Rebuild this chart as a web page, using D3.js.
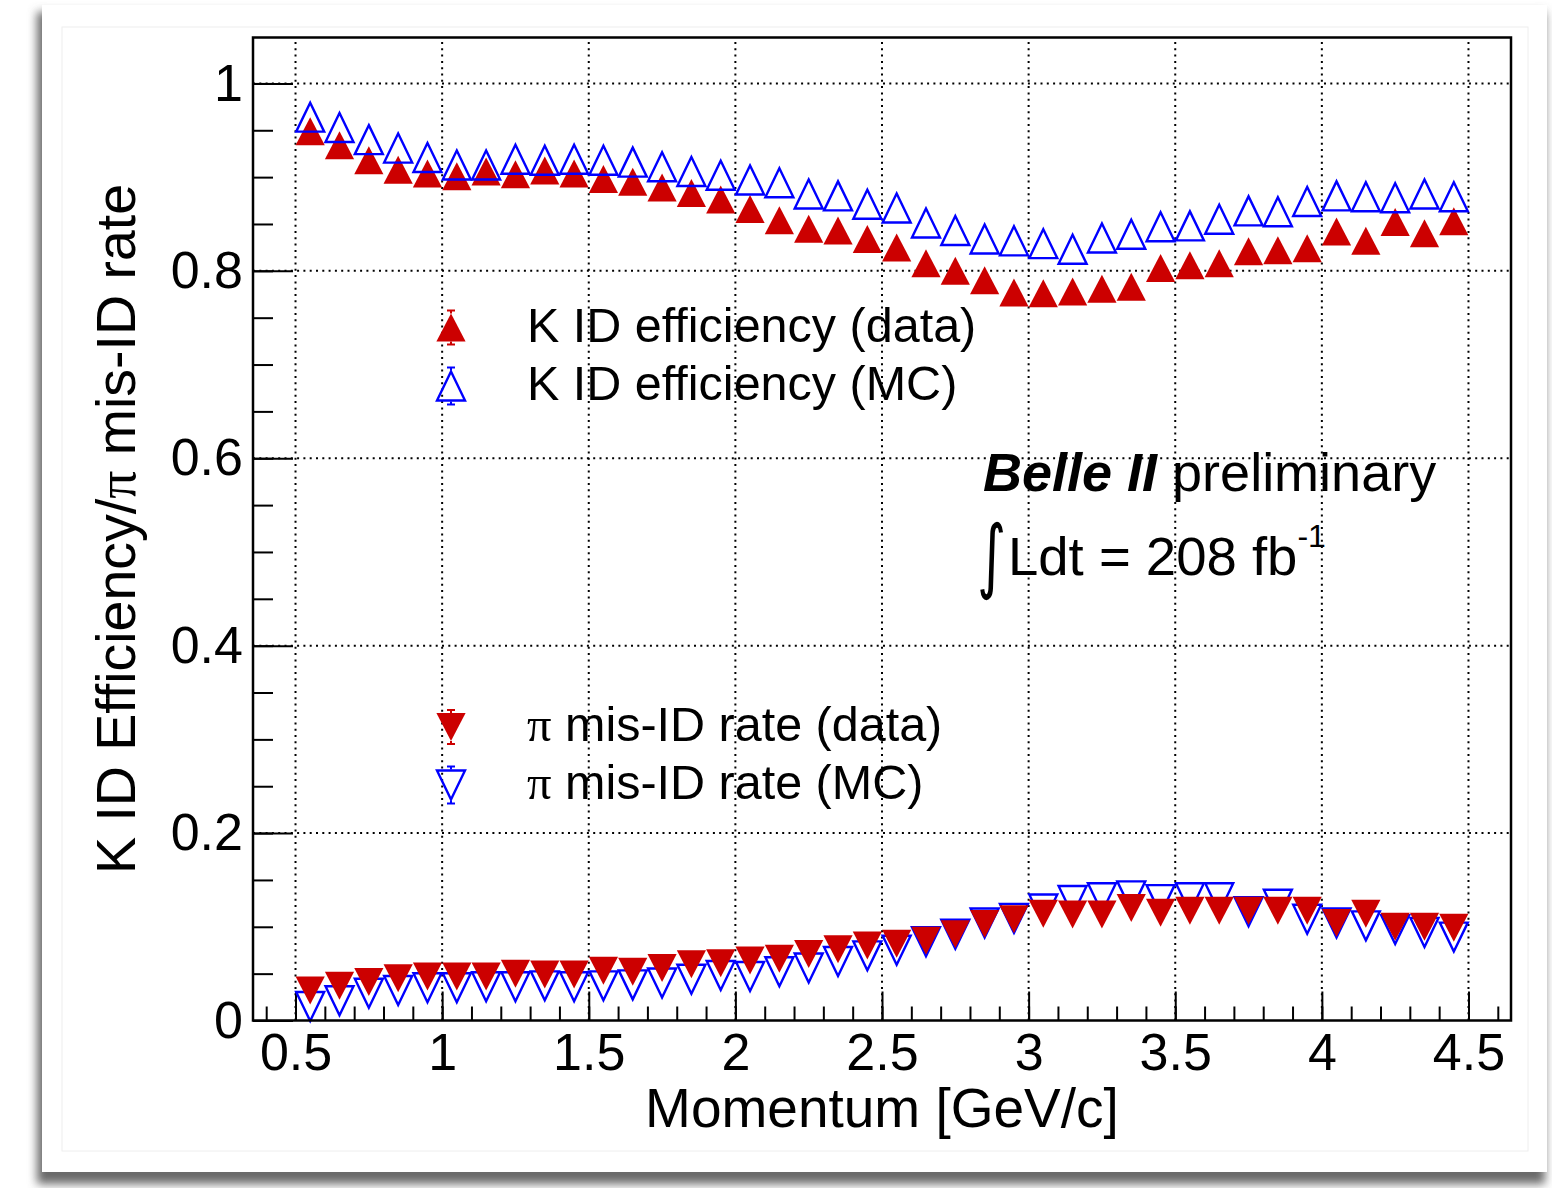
<!DOCTYPE html>
<html>
<head>
<meta charset="utf-8">
<script src="https://cdn.jsdelivr.net/npm/d3@7"></script>
<style>
  body { margin: 0; background: #fff; }
  svg { display: block; font-family: "Liberation Sans", Arial, sans-serif; }
</style>
</head>
<body>
<div id="chart"></div>
<script>
"use strict"

// bin centres [GeV/c]
const momentum = [0.55, 0.65, 0.75, 0.85, 0.95, 1.05, 1.15, 1.25, 1.35, 1.45,
  1.55, 1.65, 1.75, 1.85, 1.95, 2.05, 2.15, 2.25, 2.35, 2.45,
  2.55, 2.65, 2.75, 2.85, 2.95, 3.05, 3.15, 3.25, 3.35, 3.45,
  3.55, 3.65, 3.75, 3.85, 3.95, 4.05, 4.15, 4.25, 4.35, 4.45];

const kEffData = [0.949, 0.934, 0.918, 0.908, 0.904, 0.901, 0.906, 0.903, 0.907, 0.904,
  0.898, 0.895, 0.889, 0.883, 0.876, 0.866, 0.854, 0.845, 0.843, 0.834,
  0.825, 0.808, 0.800, 0.790, 0.777, 0.776, 0.778, 0.781, 0.783, 0.803,
  0.806, 0.808, 0.821, 0.822, 0.824, 0.842, 0.832, 0.852, 0.840, 0.853];

const kEffMC = [0.964, 0.953, 0.940, 0.931, 0.921, 0.913, 0.913, 0.919, 0.918, 0.919,
  0.918, 0.916, 0.911, 0.906, 0.902, 0.897, 0.894, 0.882, 0.880, 0.871,
  0.867, 0.851, 0.843, 0.834, 0.832, 0.829, 0.823, 0.835, 0.839, 0.847,
  0.848, 0.855, 0.864, 0.863, 0.874, 0.880, 0.879, 0.878, 0.882, 0.879];

const piMisData = [0.032, 0.037, 0.041, 0.045, 0.047, 0.047, 0.047, 0.050, 0.049, 0.049,
  0.053, 0.052, 0.056, 0.060, 0.061, 0.064, 0.066, 0.071, 0.076, 0.080,
  0.082, 0.085, 0.092, 0.103, 0.108, 0.114, 0.113, 0.113, 0.120, 0.115,
  0.117, 0.117, 0.117, 0.117, 0.117, 0.104, 0.114, 0.100, 0.100, 0.099];

const piMisMC = [0.015, 0.021, 0.029, 0.032, 0.035, 0.035, 0.036, 0.036, 0.037, 0.036,
  0.037, 0.038, 0.040, 0.044, 0.048, 0.047, 0.052, 0.056, 0.063, 0.069,
  0.075, 0.084, 0.092, 0.104, 0.109, 0.119, 0.128, 0.131, 0.133, 0.129,
  0.131, 0.131, 0.116, 0.124, 0.108, 0.104, 0.101, 0.097, 0.094, 0.089];

const xTicks = [0.5, 1, 1.5, 2, 2.5, 3, 3.5, 4, 4.5];
const yTicks = [0, 0.2, 0.4, 0.6, 0.8, 1];

const legendLabels = ["K ID efficiency (data)", "K ID efficiency (MC)", "mis-ID rate (data)", "mis-ID rate (MC)"];

const RED = "#cc0000";
const BLUE = "#0000ff";

let KaonIdPlot = function(targetID) {

  let self = {
    targetElement: null,
    svg: null,
    frame: { left: 253, right: 1511, top: 37.5, bottom: 1020.5 },
    x: null,
    y: null
  };

  init();

  function init() {
    self.targetElement = d3.select(targetID);

    self.svg = self.targetElement.append("svg")
      .attr("width", 1552)
      .attr("height", 1188);

    drawPanel();

    self.x = d3.scaleLinear()
      .domain([0.355, 4.645])
      .range([self.frame.left, self.frame.right]);

    self.y = d3.scaleLinear()
      .domain([0, 1.049])
      .range([self.frame.bottom, self.frame.top]);

    drawGrid();
    drawAxes();

    drawSeries(kEffData, true, true);
    drawSeries(kEffMC, true, false);
    drawSeries(piMisMC, false, false);
    drawSeries(piMisData, false, true);

    drawFrame();
    drawLegend();
    drawLabel();
  }


  function drawPanel() {
    let defs = self.svg.append("defs");
    defs.append("filter")
      .attr("id", "blur")
      .attr("x", "-5%").attr("y", "-5%")
      .attr("width", "110%").attr("height", "110%")
      .append("feGaussianBlur")
      .attr("stdDeviation", 5);

    self.svg.append("rect")
      .attr("x", 37).attr("y", 12)
      .attr("width", 1508).attr("height", 1172)
      .style("fill", "#6a6a6a")
      .attr("filter", "url(#blur)");

    self.svg.append("rect")
      .attr("x", 42).attr("y", 5)
      .attr("width", 1505).attr("height", 1167)
      .style("fill", "white");

    self.svg.append("rect")
      .attr("x", 62).attr("y", 27)
      .attr("width", 1466).attr("height", 1124)
      .style("fill", "none")
      .style("stroke", "#eeeeee")
      .style("stroke-width", 1);
  }


  function drawGrid() {
    let grid = self.svg.append("g")
      .attr("class", "grid")
      .style("stroke", "black")
      .style("stroke-width", 2)
      .style("stroke-dasharray", "2,4.3");

    grid.selectAll(".gx")
      .data(xTicks)
      .enter().append("line")
      .attr("x1", d => self.x(d)).attr("x2", d => self.x(d))
      .attr("y1", self.frame.bottom).attr("y2", self.frame.top);

    grid.selectAll(".gy")
      .data(yTicks.filter(d => d > 0))
      .enter().append("line")
      .attr("y1", d => self.y(d)).attr("y2", d => self.y(d))
      .attr("x1", self.frame.left).attr("x2", self.frame.right);
  }


  function drawAxes() {
    let xMinor = d3.range(4, 47).map(d => d / 10);
    let yMinor = d3.range(0, 21).map(d => d / 20);

    let gx = self.svg.append("g")
      .attr("transform", "translate(0," + self.frame.bottom + ")");
    gx.append("g")
      .call(d3.axisBottom(self.x).tickValues(xMinor).tickFormat("").tickSizeInner(-14).tickSizeOuter(0));
    gx.append("g")
      .call(d3.axisBottom(self.x).tickValues(xTicks).tickFormat(d => String(d))
        .tickSizeInner(-29).tickSizeOuter(0).tickPadding(13));

    let gy = self.svg.append("g")
      .attr("transform", "translate(" + self.frame.left + ",0)");
    gy.append("g")
      .call(d3.axisLeft(self.y).tickValues(yMinor).tickFormat("").tickSizeInner(-20).tickSizeOuter(0));
    gy.append("g")
      .call(d3.axisLeft(self.y).tickValues(yTicks).tickFormat(d => String(d))
        .tickSizeInner(-40).tickSizeOuter(0).tickPadding(10));

    self.svg.selectAll(".domain").remove();
    self.svg.selectAll(".tick line")
      .style("stroke", "black")
      .style("stroke-width", 2);
    self.svg.selectAll(".tick text")
      .style("font-family", "Liberation Sans, Arial, sans-serif")
      .style("font-size", "52px")
      .style("fill", "black");

    self.svg.append("text")
      .attr("x", (self.frame.left + self.frame.right) / 2)
      .attr("y", 1127)
      .attr("text-anchor", "middle")
      .style("font-size", "55px")
      .text("Momentum [GeV/c]");

    let yTitle = self.svg.append("text")
      .attr("transform", "translate(135," + (self.frame.top + self.frame.bottom) / 2 + ") rotate(-90)")
      .attr("text-anchor", "middle")
      .style("font-size", "55.5px");
    yTitle.append("tspan").text("K ID Efficiency/");
    yTitle.append("tspan").style("font-family", "Liberation Serif, serif").text("π");
    yTitle.append("tspan").text(" mis-ID rate");
  }


  function triPath(up, w, h) {
    return up
      ? "M0," + (-h) + "L" + w + "," + h + "L" + (-w) + "," + h + "Z"
      : "M0," + h + "L" + w + "," + (-h) + "L" + (-w) + "," + (-h) + "Z";
  }


  function styleMarker(sel, filled) {
    if (filled) {
      sel.style("fill", RED).style("stroke", "none");
    } else {
      sel.style("fill", "none").style("stroke", BLUE).style("stroke-width", 2.4);
    }
  }


  function drawSeries(values, up, filled) {
    let pts = momentum.map((m, i) => ({ m: m, v: values[i] }));
    let sel = self.svg.append("g").selectAll("path")
      .data(pts)
      .enter().append("path")
      .attr("transform", d => "translate(" + self.x(d.m) + "," + self.y(d.v) + ")")
      .attr("d", filled ? triPath(up, 14.6, 14) : triPath(up, 14, 14.5));
    styleMarker(sel, filled);
  }


  function drawFrame() {
    self.svg.append("rect")
      .attr("x", self.frame.left)
      .attr("y", self.frame.top)
      .attr("width", self.frame.right - self.frame.left)
      .attr("height", self.frame.bottom - self.frame.top)
      .style("fill", "none")
      .style("stroke", "black")
      .style("stroke-width", 2.5);
  }


  function drawLegend() {
    let rows = [
      { label: legendLabels[0], up: true, filled: true, y: 327.5, pi: false },
      { label: legendLabels[1], up: true, filled: false, y: 386, pi: false },
      { label: legendLabels[2], up: false, filled: true, y: 727, pi: true },
      { label: legendLabels[3], up: false, filled: false, y: 785, pi: true }
    ];

    let g = self.svg.append("g").attr("class", "legend");

    rows.forEach(r => {
      let color = r.filled ? RED : BLUE;
      let h = r.filled ? 14 : 15.5;

      // small error-bar caps above and below the marker
      [-1, 1].forEach(s => {
        let yEnd = r.y + s * (h + 3);
        g.append("line")
          .attr("x1", 451).attr("x2", 451)
          .attr("y1", r.y + s * h).attr("y2", yEnd)
          .style("stroke", color).style("stroke-width", 2);
        g.append("line")
          .attr("x1", 447).attr("x2", 455)
          .attr("y1", yEnd).attr("y2", yEnd)
          .style("stroke", color).style("stroke-width", 2);
      });

      let m = g.append("path")
        .attr("transform", "translate(451," + r.y + ")")
        .attr("d", r.filled ? triPath(r.up, 14.6, 14) : triPath(r.up, 14, 14.5));
      styleMarker(m, r.filled);

      let t = g.append("text")
        .attr("x", 527)
        .attr("y", r.y + 14)
        .style("font-size", "48.5px");
      if (r.pi) {
        t.append("tspan").style("font-family", "Liberation Serif, serif").text("π");
        t.append("tspan").text(" " + r.label);
      } else {
        t.text(r.label);
      }
    });
  }


  function drawLabel() {
    let t1 = self.svg.append("text")
      .attr("x", 983)
      .attr("y", 491)
      .style("font-size", "54px");
    t1.append("tspan")
      .style("font-weight", "bold")
      .style("font-style", "italic")
      .text("Belle II");
    t1.append("tspan").text(" preliminary");

    self.svg.append("text")
      .attr("transform", "translate(977,583) scale(1,1.45)")
      .style("font-family", "DejaVu Sans, sans-serif")
      .style("font-size", "56px")
      .text("∫");

    let t2 = self.svg.append("text")
      .attr("x", 1008)
      .attr("y", 575)
      .style("font-size", "54.5px");
    t2.append("tspan").text("Ldt = 208 fb");
    t2.append("tspan")
      .attr("dy", -28)
      .style("font-size", "32px")
      .text("-1");
  }


  return {
    self
  };

}

KaonIdPlot("#chart");
</script>
</body>
</html>
